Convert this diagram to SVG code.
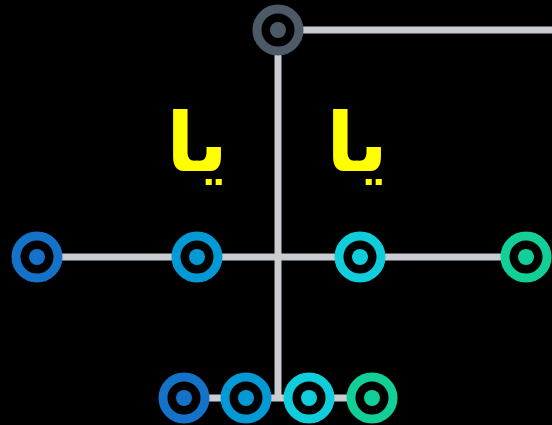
<svg xmlns="http://www.w3.org/2000/svg" width="552" height="425" viewBox="0 0 552 425">
<style>
.e{stroke:#c9ccd1;stroke-width:7;fill:none}
.r{stroke-width:9;fill:#000}
.t{font-family:"DejaVu Sans",sans-serif;font-weight:bold;font-size:82px;fill:#ffff00;text-anchor:middle}
</style>
<rect width="552" height="425" fill="#000"/>
<g id="connectors">
<line class="e" x1="278" y1="30" x2="552" y2="30"/>
<line class="e" x1="278" y1="30" x2="278" y2="398"/>
<line class="e" x1="37" y1="257" x2="526" y2="257"/>
<line class="e" x1="184" y1="398" x2="372" y2="398"/>
</g>
<g id="n0"><circle class="r" cx="278" cy="30" r="21" stroke="#4b5a66"/><circle cx="278" cy="30" r="8" fill="#4b5a66"/></g>
<g id="n1"><circle class="r" cx="37" cy="257" r="21" stroke="#1572c9"/><circle cx="37" cy="257" r="8" fill="#1572c9"/></g>
<g id="n2"><circle class="r" cx="197" cy="257" r="21" stroke="#0399d4"/><circle cx="197" cy="257" r="8" fill="#0399d4"/></g>
<g id="n3"><circle class="r" cx="360" cy="257" r="21" stroke="#10cddb"/><circle cx="360" cy="257" r="8" fill="#10cddb"/></g>
<g id="n4"><circle class="r" cx="526" cy="257" r="21" stroke="#12cf98"/><circle cx="526" cy="257" r="8" fill="#12cf98"/></g>
<g id="n5"><circle class="r" cx="184" cy="398" r="21" stroke="#1572c9"/><circle cx="184" cy="398" r="8" fill="#1572c9"/></g>
<g id="n6"><circle class="r" cx="246" cy="398" r="21" stroke="#0399d4"/><circle cx="246" cy="398" r="8" fill="#0399d4"/></g>
<g id="n7"><circle class="r" cx="309" cy="398" r="21" stroke="#10cddb"/><circle cx="309" cy="398" r="8" fill="#10cddb"/></g>
<g id="n8"><circle class="r" cx="372" cy="398" r="21" stroke="#12cf98"/><circle cx="372" cy="398" r="8" fill="#12cf98"/></g>
<g id="labels">
<text class="t" x="197" y="171">يا</text>
<text class="t" x="357" y="171">يا</text>
</g>
</svg>
